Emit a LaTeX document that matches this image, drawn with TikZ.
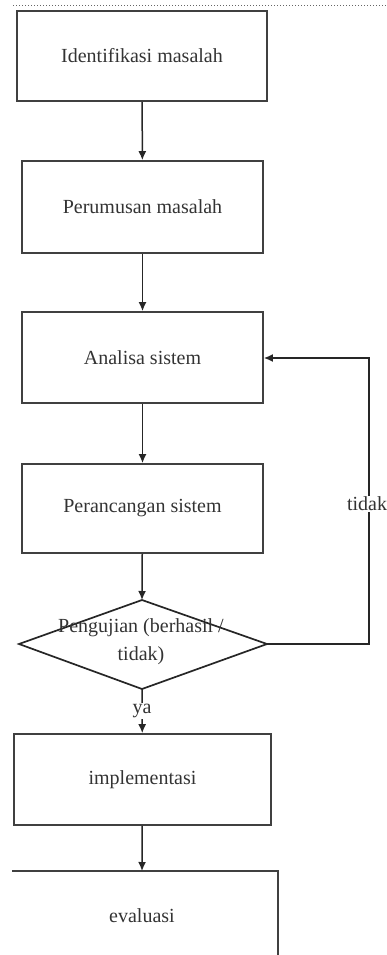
\documentclass[tikz,border=0pt]{standalone}
\usepackage{fontspec}
\setmainfont{Liberation Serif}
\usepackage{tikz}
\usetikzlibrary{positioning,arrows.meta}

\begin{document}
\begin{tikzpicture}[x=1pt,y=-1pt,>={Latex[length=9pt,width=8pt]},
		kotak/.style={draw=black!75,line width=1.7pt,rectangle,inner sep=0pt,
			minimum width=241pt,minimum height=91pt,text=black!80,font=\fontsize{20}{27}\selectfont},
		garis/.style={draw=black!85,line width=1.5pt},
		label/.style={fill=white,inner sep=1pt,text=black!80,font=\fontsize{20}{24}\selectfont}]
			\useasboundingbox (0,0) rectangle (387,955);
			\draw[black!60,line width=1pt,dotted] (13,6) -- (387,6);
			% kotak proses
			\node[kotak,minimum width=250pt,minimum height=90pt] (identifikasi) at (142,56) {Identifikasi masalah};
			\node[kotak,minimum height=92pt] (perumusan) at (142.5,207) {Perumusan masalah};
			\node[kotak] (analisa) at (142.5,357.5) {Analisa sistem};
			\node[kotak,minimum height=89pt] (perancangan) at (142.5,508.5) {Perancangan sistem};
			% keputusan
			\coordinate (utop) at (142,600);
			\coordinate (uright) at (267,644);
			\coordinate (ubottom) at (142,689);
			\coordinate (uleft) at (19,644);
			\draw[garis,line width=1.7pt,line join=miter] (utop) -- (uright) -- (ubottom) -- (uleft) -- cycle;
			\node[text=black!80,align=center,font=\fontsize{20}{28}\selectfont] (pengujian) at (141,642) {Pengujian (berhasil /\\tidak)};
			\node[kotak,minimum width=257pt] (implementasi) at (142.5,779.5) {implementasi};
			\coordinate (etop) at (142,871);
			\coordinate (eleft) at (12,871);
			\coordinate (eright) at (278,871);
			\coordinate (ebottom) at (278,960);
			\draw[draw=black!75,line width=1.7pt] (eleft) -- (eright) -- (ebottom);
			\node[text=black!80,font=\fontsize{20}{24}\selectfont] (evaluasi) at (142,916) {evaluasi};
			% panah
			\draw[garis,->] (identifikasi) -- (perumusan);
			\draw[garis,->] (perumusan) -- (analisa);
			\draw[garis,->] (analisa) -- (perancangan);
			\draw[garis,->] (perancangan) -- (utop);
			\draw[garis,->] (ubottom) -- node[label,pos=0.5] {ya} (implementasi);
			\draw[garis,->] (implementasi) -- (etop);
			\coordinate (kanan) at (369,644);
			\coordinate (atas) at (369,358);
			\draw[garis,->] (uright) -- (kanan) -- node[label,pos=0.49,xshift=-2pt] {tidak} (atas) -- (analisa.east |- atas);
\end{tikzpicture}
\end{document}
